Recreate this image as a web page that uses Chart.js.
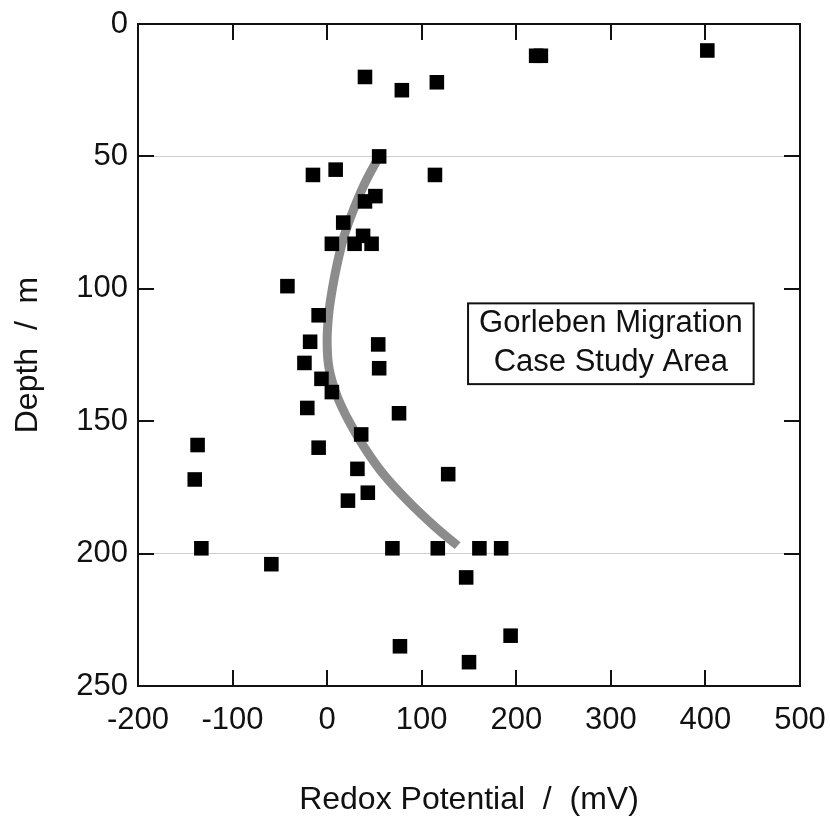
<!DOCTYPE html>
<html>
<head>
<meta charset="utf-8">
<title>Redox potential vs depth</title>
<script src="https://cdn.jsdelivr.net/npm/chart.js@4.4.1/dist/chart.umd.min.js"></script>
<style>
  html, body { margin: 0; padding: 0; background: #fff; }
  #wrap { width: 830px; height: 825px; position: relative; }
</style>
</head>
<body>
<div id="wrap"><canvas id="chart"></canvas></div>
<script>
// Measured samples: redox potential (mV) against depth (m)
const redoxMv = [40, 79, 116, 221, 226, 402, 55, -15, 9, 114, 51, 40, 17, 38, 5, 29, 47,
                 -42, -9, -18, 54, -24, 55, -6, 5, -21, 76, 36, -137, -9, 32, 128, -140,
                 43, 22, -133, 69, 117, 161, 184, -59, 147, 194, 77, 150];
const depthM  = [20, 25, 22, 12, 12, 10, 50, 57, 55, 57, 65, 67, 75, 80, 83, 83, 83,
                 99, 110, 120, 121, 128, 130, 134, 139, 145, 147, 155, 159, 160, 168, 170, 172,
                 177, 180, 198, 198, 198, 198, 198, 204, 209, 231, 235, 241];

// Trend curve
const trendMv    = [55, 40, 28, 18, 11, 5.5, 1.5, 0, 2, 10, 23, 39.5, 59.5, 85, 114.5, 138];
const trendDepth = [50, 60, 70, 80, 90, 100, 110, 120, 130, 140, 150, 160, 170, 180, 190, 197];

const xTicks   = [-200, -100, 0, 100, 200, 300, 400, 500];
const yTicks   = [0, 50, 100, 150, 200, 250];
const refLines = [50, 200];
const noteText = ['Gorleben Migration', 'Case Study Area'];

const FONT = "'Liberation Sans', Arial, sans-serif";
const INK  = '#111';

// Frame, inward ticks on all four sides, and the text box
const frameAndTicks = {
  id: 'frameAndTicks',
  afterDatasetsDraw(chart) {
    const { ctx, chartArea: a, scales: { x, y } } = chart;
    const len = 16;
    ctx.save();
    ctx.strokeStyle = INK;
    ctx.lineWidth = 2;
    ctx.strokeRect(a.left, a.top, a.right - a.left, a.bottom - a.top);

    ctx.beginPath();
    xTicks.forEach(v => {
      const px = Math.round(x.getPixelForValue(v));
      ctx.moveTo(px, a.bottom); ctx.lineTo(px, a.bottom - len);
      ctx.moveTo(px, a.top);    ctx.lineTo(px, a.top + len);
    });
    yTicks.forEach(v => {
      const py = Math.round(y.getPixelForValue(v));
      ctx.moveTo(a.left, py);  ctx.lineTo(a.left + len, py);
      ctx.moveTo(a.right, py); ctx.lineTo(a.right - len, py);
    });
    ctx.stroke();

    // note box, anchored in data space
    const bx0 = x.getPixelForValue(149), bx1 = x.getPixelForValue(451);
    const by0 = y.getPixelForValue(105.5), by1 = y.getPixelForValue(136);
    ctx.fillStyle = '#fff';
    ctx.fillRect(bx0, by0, bx1 - bx0, by1 - by0);
    ctx.strokeRect(bx0, by0, bx1 - bx0, by1 - by0);
    ctx.fillStyle = INK;
    ctx.font = `31px ${FONT}`;
    ctx.textAlign = 'center';
    ctx.textBaseline = 'middle';
    const cx = (bx0 + bx1) / 2, cy = (by0 + by1) / 2;
    ctx.fillText(noteText[0], cx, cy - 20);
    ctx.fillText(noteText[1], cx, cy + 19);
    ctx.restore();
  }
};

const ctx = document.getElementById('chart').getContext('2d');
new Chart(ctx, {
  type: 'scatter',
  data: {
    datasets: [
      {
        label: 'Samples',
        data: redoxMv.map((v, i) => ({ x: v, y: depthM[i] })),
        pointStyle: 'rect',
        pointRadius: 10.3,
        pointBorderWidth: 0,
        backgroundColor: '#000',
        borderColor: '#000',
        order: 0,
      },
      {
        label: 'Trend',
        type: 'line',
        data: trendMv.map((v, i) => ({ x: v, y: trendDepth[i] })),
        borderColor: '#8c8c8c',
        borderWidth: 9,
        borderCapStyle: 'butt',
        pointRadius: 0,
        tension: 0.4,
        fill: false,
        order: 1,
      },
    ],
  },
  options: {
    responsive: true,
    maintainAspectRatio: false,
    animation: false,
    events: [],
    layout: { padding: { top: 24, right: 30, left: 0, bottom: 0 } },
    plugins: {
      legend:  { display: false },
      tooltip: { enabled: false },
    },
    scales: {
      x: {
        type: 'linear',
        min: -200,
        max: 500,
        afterBuildTicks: s => { s.ticks = xTicks.map(v => ({ value: v })); },
        afterFit: s => { s.height = 139; s.paddingLeft = 0; s.paddingRight = 0; },
        grid:   { display: false },
        border: { display: false },
        ticks: {
          color: INK,
          padding: 8,
          font: { family: FONT, size: 31 },
        },
        title: {
          display: true,
          text: 'Redox Potential  /  (mV)',
          color: INK,
          font: { family: FONT, size: 32 },
          padding: { bottom: 6 },
        },
      },
      y: {
        type: 'linear',
        reverse: true,
        min: 0,
        max: 250,
        afterBuildTicks: s => { s.ticks = yTicks.map(v => ({ value: v })); },
        afterFit: s => { s.width = 138; s.paddingTop = 0; s.paddingBottom = 0; },
        grid: {
          drawTicks: false,
          lineWidth: 1,
          color: c => (c.tick && refLines.includes(c.tick.value)) ? '#cfcfcf' : 'rgba(0,0,0,0)',
        },
        border: { display: false },
        ticks: {
          color: INK,
          padding: 10,
          font: { family: FONT, size: 31 },
        },
        title: {
          display: true,
          text: 'Depth  /  m',
          color: INK,
          font: { family: FONT, size: 32 },
          padding: { top: 9 },
        },
      },
    },
  },
  plugins: [frameAndTicks],
});
</script>
</body>
</html>
